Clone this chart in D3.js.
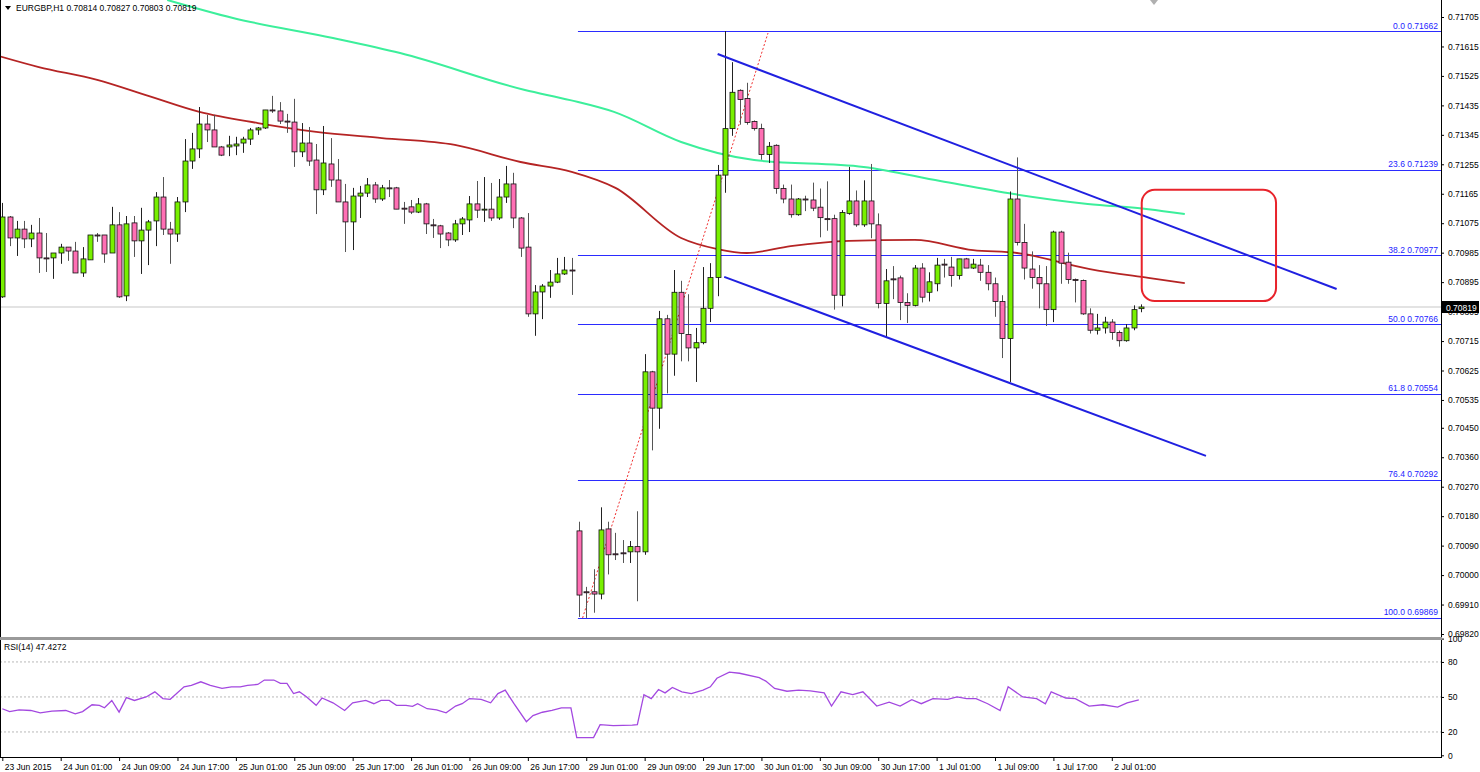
<!DOCTYPE html>
<html>
<head>
<meta charset="utf-8">
<script src="https://cdn.jsdelivr.net/npm/d3@7/dist/d3.min.js"></script>
<style>
  body { margin: 0; background: #fff; }
  svg { display: block; font-family: "Liberation Sans", Arial, sans-serif; }
</style>
</head>
<body>
<svg id="chart" width="1480" height="772"></svg>
<script>
// prices in points (1 point = 0.00001), one row per H1 bar: open, high, low, close
const POINT = 1e-5;
const candles = [
  [70850,71137,70847,71094],[71094,71097,71005,71030],[71030,71082,70975,71057],[71057,71082,70999,71027],
  [71027,71070,71002,71045],[71045,71091,70923,70969],[70969,71045,70926,70967],[70969,70984,70905,70984],
  [70984,71012,70951,71002],[71002,71002,70960,70990],[70990,71018,70923,70923],[70923,71002,70911,70966],
  [70963,71039,70963,71039],[71039,71045,71018,71037],[71039,71039,70954,70981],[70984,71125,70984,71070],
  [71070,71109,70847,70850],[70853,71097,70837,71073],[71076,71097,70972,71021],[71021,71122,70920,71054],
  [71054,71085,70947,71079],[71082,71170,71005,71155],[71155,71216,71039,71057],[71057,71079,70951,71042],
  [71042,71155,71018,71140],[71140,71332,71109,71265],[71265,71351,71241,71302],[71302,71430,71274,71378],
  [71378,71406,71323,71360],[71360,71406,71308,71308],[71308,71311,71280,71283],[71308,71342,71280,71314],
  [71311,71339,71283,71317],[71320,71339,71290,71332],[71332,71366,71314,71360],[71360,71369,71345,71366],
  [71366,71421,71363,71421],[71421,71464,71412,71418],[71418,71445,71378,71387],[71387,71409,71351,71385],
  [71384,71455,71247,71293],[71293,71381,71277,71320],[71320,71369,71250,71265],[71268,71317,71103,71177],
  [71177,71372,71161,71259],[71256,71335,71186,71207],[71207,71271,71140,71140],[71140,71195,70987,71079],
  [71079,71183,70993,71158],[71158,71189,71091,71167],[71167,71213,71155,71192],[71192,71201,71137,71149],
  [71149,71192,71143,71183],[71183,71207,71155,71181],[71183,71186,71118,71118],[71121,71140,71073,71119],
  [71125,71146,71103,71109],[71109,71152,71106,71134],[71134,71137,71042,71073],[71070,71088,71030,71068],
  [71067,71070,70999,71042],[71045,71048,71005,71024],[71024,71085,71018,71073],[71073,71094,71039,71088],
  [71085,71158,71048,71134],[71134,71204,71091,71115],[71115,71216,71079,71118],[71118,71198,71082,71091],
  [71091,71210,71085,71155],[71155,71250,71137,71195],[71195,71229,71060,71091],[71091,71094,70972,70999],
  [71002,71106,70789,70798],[70798,70886,70731,70865],[70865,70889,70782,70883],[70883,70932,70847,70895],
  [70895,70969,70892,70920],[70920,70972,70917,70932],[70932,70969,70856,70930],[70135,70163,69872,69939],
  [69949,69964,69869,69947],[69949,70018,69885,69942],[69942,70207,69926,70138],[70141,70163,70002,70062],
  [70065,70129,70046,70063],[70068,70107,70037,70066],[70071,70104,70037,70087],[70087,70195,69920,70071],
  [70071,70675,70062,70621],[70621,70624,70381,70510],[70510,70807,70447,70783],[70783,70795,70555,70675],
  [70675,70932,70609,70864],[70864,70899,70653,70738],[70735,70858,70653,70694],[70694,70755,70590,70710],
  [70710,70941,70705,70815],[70815,70953,70773,70909],[70909,71253,70852,71222],[71222,71662,71168,71364],
  [71364,71567,71342,71475],[71481,71484,71376,71453],[71456,71504,71376,71383],[71386,71389,71358,71364],
  [71364,71379,71269,71285],[71285,71323,71259,71310],[71313,71316,71165,71181],[71181,71193,71136,71149],
  [71149,71193,71092,71101],[71101,71152,71098,71149],[71149,71159,71112,71147],[71146,71199,71112,71121],
  [71124,71181,71032,71092],[71089,71203,71052,71087],[71089,71101,70811,70855],[70855,71115,70821,71108],
  [71105,71247,71101,71143],[71143,71175,71064,71070],[71070,71206,71064,71143],[71143,71256,71029,71073],
  [71070,71105,70815,70830],[70830,70935,70726,70899],[70905,70944,70843,70903],[70908,70915,70779,70833],
  [70833,70861,70770,70824],[70824,70947,70821,70938],[70938,70953,70833,70849],[70864,70925,70836,70896],
  [70890,70969,70867,70947],[70950,70966,70909,70948],[70941,70972,70881,70915],[70915,70966,70903,70966],
  [70966,70969,70938,70938],[70938,70966,70935,70950],[70947,70966,70899,70925],[70925,70947,70870,70890],
  [70890,70909,70789,70836],[70836,70855,70663,70723],[70723,71172,70590,71149],[71149,71276,71007,71016],
  [71016,71073,70903,70938],[70935,70989,70875,70909],[70909,70947,70815,70890],[70890,70944,70761,70811],
  [70811,71052,70773,71048],[71048,71052,70890,70953],[70956,70985,70890,70903],[70903,70906,70833,70901],
  [70900,70903,70795,70798],[70798,70815,70738,70748],[70748,70798,70735,70755],[70755,70789,70738,70773],
  [70773,70782,70719,70741],[70741,70747,70698,70716],[70716,70767,70713,70755],[70755,70824,70748,70811],
  [70814,70827,70803,70819]
];

// moving averages, sampled as [bar index, price in points]
const maSlow = [[-1,71589],[5,71552],[13,71513],[20,71464],[27,71415],[35,71381],[43,71354],[52,71335],
  [62,71314],[71,71262],[78,71232],[84,71183],[93,71030],[98,70996],[102,70984],[108,71005],[116,71021],
  [125,71024],[133,70993],[139,70984],[149,70935],[157,70908],[162,70892]];
const maLong = [[22.6,71757],[31.6,71702],[45.3,71641],[54.5,71595],[71.6,71482],[77.8,71451],[83.8,71415],
  [93,71323],[103,71268],[118,71247],[128.5,71204],[138.6,71164],[148.7,71134],[157,71118],[162,71103]];

// RSI(14), sampled as [bar index, value]
const rsi = [[0,39.9],[1,37.5],[2.3,39],[3.9,38.4],[5.2,36.4],[6.8,37.8],[8.7,38.4],[10,35.5],[11,37.5],
  [12.3,43.3],[13.3,42.8],[14,40.7],[15,47],[16,37],[17,49.4],[18.1,47],[19.7,50],[20.9,54.4],[22,48.6],
  [23,48],[24.9,58.7],[25.9,60],[27.2,63],[28.5,60],[30.1,57.3],[31.4,58.7],[32.6,58.7],[33.6,60],[35,60.7],
  [35.9,64.5],[37.2,64.5],[38.1,61.6],[39,61.6],[39.9,52.9],[40.7,54.4],[41.7,50],[43,42.8],[43.8,49.1],
  [45.3,45],[46.9,38.4],[48,45],[49.8,47],[50.9,44.2],[51.9,47],[53,47],[54,42.8],[55.3,42.8],[56.2,41.9],
  [56.9,44.2],[58.2,39.9],[59.5,39],[60.8,36.4],[62.1,42.2],[63,44.2],[64,48.6],[65.6,48],[66.9,45],
  [67.9,52.9],[68.9,55.8],[70.1,44.2],[71.8,28.8],[72.7,34],[74,36.9],[75.3,38.4],[76.6,40.7],[77.9,40.7],
  [78.7,15.2],[79.8,15.2],[81,15.2],[81.9,26.2],[83.7,25.4],[86.3,25.9],[87,26.2],[87.9,52],[88.9,48.6],
  [89.9,56.4],[90.8,53.5],[91.8,58.1],[93.1,54.4],[94.4,52.9],[96,55.8],[97,58.7],[97.9,66],[99.6,71.2],
  [101,70.3],[103.7,66.5],[104.6,63.6],[105.8,57.3],[107.5,54.9],[109.1,55.8],[110.7,55.2],[112.6,53.5],
  [113.6,42.2],[114.9,54.4],[116.5,52],[117.9,54.4],[119.8,42.2],[121.5,45.6],[123,42.2],[124.6,47.7],
  [125.9,44.2],[127.5,48.6],[129.5,48],[130.8,50],[132.1,48.6],[133.4,48.6],[135,44.2],[136.7,38.4],
  [137.8,58.7],[139.8,50],[141.7,48.6],[142.9,44.2],[143.7,54.4],[145.7,49.1],[147,48.6],[148.9,42.2],
  [150.8,43.3],[152.8,41.3],[154.1,45],[155.7,47.4]];

const fibLevels = [0.0, 23.6, 38.2, 50.0, 61.8, 76.4, 100.0];
const fibPrices = [0.71662, 0.71239, 0.70977, 0.70766, 0.70554, 0.70292, 0.69869];
const fibStartBar = 79;

// channel lines and the impulse trend line: [bar, price in points]
const channelTop = [[98, 71592], [182.8, 70874]];
const channelBottom = [[98.9, 70911], [164.9, 70364]];
const impulseLine = [[79.5, 69869], [104.9, 71656]];
const focusBox = { bar0: 156.1, bar1: 174.5, hi: 71177, lo: 70837 };

const priceTicks = [0.71705,0.71615,0.71525,0.71435,0.71345,0.71255,0.71165,0.71075,0.70985,0.70895,
  0.70805,0.70715,0.70625,0.70535,0.70450,0.70360,0.70270,0.70180,0.70090,0.70000,0.69910,0.69820];
const timeBars = [0,8,16,24,32,40,48,56,64,72,80,88,96,104,112,120,128,136,144,152];
const timeLabels = ["23 Jun 2015","24 Jun 01:00","24 Jun 09:00","24 Jun 17:00","25 Jun 01:00","25 Jun 09:00",
  "25 Jun 17:00","26 Jun 01:00","26 Jun 09:00","26 Jun 17:00","29 Jun 01:00","29 Jun 09:00","29 Jun 17:00",
  "30 Jun 01:00","30 Jun 09:00","30 Jun 17:00","1 Jul 01:00","1 Jul 09:00","1 Jul 17:00","2 Jul 01:00"];
const rsiTicks = [100, 80, 50, 20, 0];
const rsiLevels = [80, 50, 20];
const header = "EURGBP,H1  0.70814 0.70827 0.70803 0.70819";

const W = 1441, mainH = 637, rsiTop = 640, rsiBottom = 757;
const svg = d3.select("#chart");

const x = d3.scaleLinear().domain([-0.315, 197.1]).range([0, W]);
const y = d3.scaleLinear().domain([0.69820, 0.71705]).range([634, 17]);
const yr = d3.scaleLinear().domain([0, 100]).range([755.3, 638.6]);
const p = (v) => v * POINT;

svg.append("defs").append("clipPath").attr("id", "mainClip")
  .append("rect").attr("x", 0).attr("y", 0).attr("width", W).attr("height", mainH);
const main = svg.append("g").attr("clip-path", "url(#mainClip)");

// bid line
const last = candles[candles.length - 1];
main.append("line").attr("x1", 0).attr("x2", W)
  .attr("y1", y(p(last[3]))).attr("y2", y(p(last[3])))
  .attr("stroke", "#c8c8c8").attr("stroke-width", 1.2);

// fibonacci levels
fibPrices.forEach((fp, k) => {
  main.append("line").attr("x1", x(fibStartBar) - 1).attr("x2", W)
    .attr("y1", Math.round(y(fp)) + 0.5).attr("y2", Math.round(y(fp)) + 0.5)
    .attr("stroke", "#2b2bff").attr("stroke-width", 1);
  main.append("text").attr("x", W - 3).attr("y", y(fp) - 2.5)
    .attr("text-anchor", "end").attr("font-size", 8.5).attr("fill", "#2323ff")
    .text(fibLevels[k].toFixed(1) + " " + fp.toFixed(5));
});

const line = d3.line().x(d => x(d[0])).y(d => y(p(d[1])));
const smooth = d3.line().x(d => x(d[0])).y(d => y(p(d[1]))).curve(d3.curveMonotoneX);

main.append("path").attr("d", smooth(maLong)).attr("fill", "none")
  .attr("stroke", "#3cef9b").attr("stroke-width", 2);
main.append("path").attr("d", smooth(maSlow)).attr("fill", "none")
  .attr("stroke", "#b52424").attr("stroke-width", 1.8);

main.append("path").attr("d", line(impulseLine)).attr("fill", "none")
  .attr("stroke", "#f03030").attr("stroke-width", 1).attr("stroke-dasharray", "2,2");

// candles
const bars = main.append("g").selectAll("g").data(candles).join("g");
bars.append("line")
  .attr("x1", (d, i) => Math.round(x(i)) + 0.5).attr("x2", (d, i) => Math.round(x(i)) + 0.5)
  .attr("y1", d => y(p(d[1]))).attr("y2", d => y(p(d[2])))
  .attr("stroke", d => d[3] >= d[0] ? "#222" : "#555").attr("stroke-width", 1);
bars.append("rect")
  .attr("x", (d, i) => Math.round(x(i)) - 2)
  .attr("width", 5)
  .attr("y", d => y(p(Math.max(d[0], d[3]))))
  .attr("height", d => Math.max(1, Math.abs(y(p(d[0])) - y(p(d[3])))))
  .attr("fill", d => d[3] >= d[0] ? "#78f000" : "#ff6fb4")
  .attr("stroke", "#111").attr("stroke-width", 0.8);

main.append("path").attr("d", line(channelTop)).attr("fill", "none")
  .attr("stroke", "#2020e0").attr("stroke-width", 2);
main.append("path").attr("d", line(channelBottom)).attr("fill", "none")
  .attr("stroke", "#2020e0").attr("stroke-width", 2);

main.append("rect")
  .attr("x", x(focusBox.bar0)).attr("y", y(p(focusBox.hi)))
  .attr("width", x(focusBox.bar1) - x(focusBox.bar0))
  .attr("height", y(p(focusBox.lo)) - y(p(focusBox.hi)))
  .attr("rx", 13).attr("fill", "none").attr("stroke", "#e8232b").attr("stroke-width", 2);

// header
svg.append("path").attr("d", "M5,6 L11,6 L8,10 Z").attr("fill", "#000");
svg.append("text").attr("x", 16).attr("y", 11).attr("font-size", 8.5).text(header);
svg.append("path").attr("d", "M1150,0 L1158,0 L1154,5 Z").attr("fill", "#b0b0b0");

// price axis
const yAxis = svg.append("g").attr("transform", `translate(${W},0)`)
  .call(d3.axisRight(y).tickValues(priceTicks).tickFormat(d3.format(".5f")).tickSize(3).tickPadding(4));
yAxis.select(".domain").remove();
yAxis.selectAll("text").attr("font-size", 8.5).attr("font-family", "Liberation Sans, Arial, sans-serif");

// bid label
const by = y(p(last[3]));
svg.append("rect").attr("x", W + 1).attr("y", by - 6).attr("width", 37).attr("height", 12).attr("fill", "#000");
svg.append("text").attr("x", W + 5).attr("y", by + 3.5).attr("fill", "#fff").attr("font-size", 8.5)
  .text((last[3] * POINT).toFixed(5));

// RSI panel
const rsiG = svg.append("g");
rsiLevels.forEach(v => {
  rsiG.append("line").attr("x1", 0).attr("x2", W).attr("y1", yr(v)).attr("y2", yr(v))
    .attr("stroke", "#b8b8b8").attr("stroke-dasharray", "2,2");
});
rsiG.append("path")
  .attr("d", d3.line().x(d => x(d[0])).y(d => yr(d[1]))(rsi))
  .attr("fill", "none").attr("stroke", "#a348e0").attr("stroke-width", 1.3);
rsiG.append("text").attr("x", 4).attr("y", 650).attr("font-size", 8.5)
  .text("RSI(14) " + "47.4272");
const rAxis = svg.append("g").attr("transform", `translate(${W},0)`)
  .call(d3.axisRight(yr).tickValues(rsiTicks).tickSize(3).tickPadding(4));
rAxis.select(".domain").remove();
rAxis.selectAll("text").attr("font-size", 8.5).attr("font-family", "Liberation Sans, Arial, sans-serif");

// time axis
const xAxis = svg.append("g").attr("transform", `translate(0,${rsiBottom})`)
  .call(d3.axisBottom(x).tickValues(timeBars).tickFormat((d, k) => timeLabels[k]).tickSize(4).tickPadding(3));
xAxis.select(".domain").remove();
xAxis.selectAll("text").attr("font-size", 8.5).attr("text-anchor", "start").attr("dx", 2)
  .attr("font-family", "Liberation Sans, Arial, sans-serif");

// frames
svg.append("line").attr("x1", 0.5).attr("x2", 0.5).attr("y1", 0).attr("y2", rsiBottom).attr("stroke", "#000");
svg.append("line").attr("x1", W + 0.5).attr("x2", W + 0.5).attr("y1", 0).attr("y2", rsiBottom).attr("stroke", "#000");
svg.append("rect").attr("x", 0).attr("y", mainH).attr("width", W + 1).attr("height", 3).attr("fill", "#9a9a9a");
svg.append("line").attr("x1", 0).attr("x2", W + 1).attr("y1", rsiBottom + 0.5).attr("y2", rsiBottom + 0.5).attr("stroke", "#000");
</script>
</body>
</html>
